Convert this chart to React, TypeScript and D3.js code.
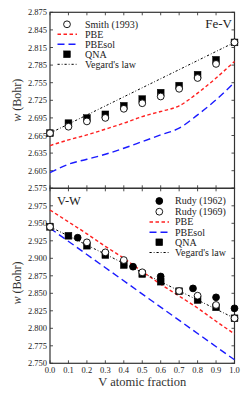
import React from "react";
import * as d3 from "d3";

// ---- Fe-V panel data ----
const xFe = [0, 0.1, 0.2, 0.3, 0.4, 0.5, 0.6, 0.7, 0.8, 0.9, 1.0];
const feSmith = [2.669, 2.680, 2.689, 2.695, 2.7105, 2.720, 2.7315, 2.7446, 2.763, 2.787, 2.8237];
const feQNA = [2.669, 2.686, 2.6946, 2.701, 2.7156, 2.727, 2.738, 2.750, 2.7686, 2.794, 2.8237];
const fePBE = [2.6478, 2.6575, 2.666, 2.6758, 2.686, 2.6973, 2.7059, 2.7156, 2.7373, 2.7629, 2.7913];
const fePBEsol = [2.6017, 2.616, 2.6245, 2.633, 2.6433, 2.6546, 2.666, 2.6775, 2.7002, 2.7258, 2.7554];
const feVegardX = [0, 1];
const feVegard = [2.669, 2.8237];
const feTicks = [2.575, 2.605, 2.635, 2.665, 2.695, 2.725, 2.755, 2.785, 2.815, 2.845, 2.875];

// ---- V-W panel data ----
const vwRudy62X = [0.15, 0.45, 0.6, 0.775, 0.9, 1.0];
const vwRudy62 = [2.9294, 2.888, 2.874, 2.857, 2.8442, 2.8285];
const vwRudy69X = [0, 0.2, 0.3, 0.4, 0.5, 0.7, 0.8, 0.9, 1.0];
const vwRudy69 = [2.945, 2.9228, 2.9085, 2.8975, 2.880, 2.8533, 2.8466, 2.8333, 2.8143];
const vwQNAX = [0, 0.1, 0.2, 0.3, 0.4, 0.5, 0.6, 0.7, 0.8, 0.9, 1.0];
const vwQNA = [2.945, 2.9322, 2.918, 2.9047, 2.8904, 2.8775, 2.8666, 2.853, 2.8404, 2.830, 2.8143];
const vwPBEX = [0, 0.1, 0.2, 0.3, 0.4, 0.5, 0.6, 0.7, 0.8, 0.9, 1.0];
const vwPBE = [2.969, 2.952, 2.935, 2.917, 2.900, 2.881, 2.863, 2.846, 2.829, 2.810, 2.792];
const vwPBEsolX = [0, 1];
const vwPBEsol = [2.943, 2.755];
const vwVegardX = [0, 1];
const vwVegard = [2.945, 2.8143];
const vwTicks = [2.75, 2.775, 2.8, 2.825, 2.85, 2.875, 2.9, 2.925, 2.95, 2.975, 3.0];

const xTicks = [0, 0.1, 0.2, 0.3, 0.4, 0.5, 0.6, 0.7, 0.8, 0.9, 1.0];

const FONT = "'Liberation Serif', 'DejaVu Serif', serif";
const RED = "#ff2020";
const BLUE = "#1a1aff";

const X0 = 50, X1 = 234.5;
const TOP0 = 12.3, MID = 188.3, BOT1 = 363.3;

const xs = d3.scaleLinear().domain([0, 1]).range([X0, X1]);
const yFe = d3.scaleLinear().domain([2.575, 2.875]).range([MID, TOP0]);
const yVW = d3.scaleLinear().domain([2.75, 3.0]).range([BOT1, MID]);

const pbeDash = "3.5,2.5";
const solDash = "7,4";
const vegDash = "2.2,2,0.8,2";

function linePath(xv: number[], yv: number[], ys: d3.ScaleLinear<number, number>) {
  const g = d3.line<number>().x((_, i) => xs(xv[i])).y((d) => ys(d)).curve(d3.curveMonotoneX);
  return g(yv) || "";
}

function Frame({ ys, ticks, y0, y1, labelTicks }: any) {
  return (
    <g>
      {xTicks.map((t) => (
        <g key={"x" + t}>
          <line x1={xs(t)} x2={xs(t)} y1={y1} y2={y1 - 3} stroke="#222" strokeWidth={0.8} />
          <line x1={xs(t)} x2={xs(t)} y1={y0} y2={y0 + 3} stroke="#222" strokeWidth={0.8} />
        </g>
      ))}
      {ticks.map((t: number) => (
        <g key={"y" + t}>
          <line x1={X0} x2={X0 + 3} y1={ys(t)} y2={ys(t)} stroke="#222" strokeWidth={0.8} />
          <line x1={X1} x2={X1 - 3} y1={ys(t)} y2={ys(t)} stroke="#222" strokeWidth={0.8} />
        </g>
      ))}
      {labelTicks.map((t: number) => (
        <text key={"l" + t} x={X0 - 3} y={ys(t) + 3} textAnchor="end" fontSize={8.5} fontFamily={FONT} fill="#222">
          {t.toFixed(3)}
        </text>
      ))}
      <rect x={X0} y={y0} width={X1 - X0} height={y1 - y0} fill="none" stroke="#333" strokeWidth={1.2} />
    </g>
  );
}

function Circle({ x, y, filled }: any) {
  return <circle cx={x} cy={y} r={3.4} fill={filled ? "#000" : "#fff"} stroke="#000" strokeWidth={0.9} />;
}
function Square({ x, y }: any) {
  return <rect x={x - 3.4} y={y - 3.4} width={6.8} height={6.8} fill="#000" stroke="#000" strokeWidth={0.5} />;
}

export default function App() {
  return (
    <svg width={249} height={394} style={{ position: "absolute", left: 0, top: 0 }}>
      <rect x={0} y={0} width={249} height={394} fill="#fff" />
      {/* Top panel */}
      <Frame ys={yFe} ticks={feTicks} y0={TOP0} y1={MID} labelTicks={feTicks} />
      <path d={linePath(xFe, fePBEsol, yFe)} fill="none" stroke={BLUE} strokeWidth={1.4} strokeDasharray={solDash} />
      <path d={linePath(xFe, fePBE, yFe)} fill="none" stroke={RED} strokeWidth={1.4} strokeDasharray={pbeDash} />
      <path d={linePath(feVegardX, feVegard, yFe)} fill="none" stroke="#000" strokeWidth={1} strokeDasharray={vegDash} />
      {xFe.map((x, i) => <Square key={"fq" + i} x={xs(x)} y={yFe(feQNA[i])} />)}
      {xFe.map((x, i) => <Circle key={"fs" + i} x={xs(x)} y={yFe(feSmith[i])} />)}
      <text x={232} y={27.5} textAnchor="end" fontSize={13} fontFamily={FONT} fill="#222">Fe-V</text>
      {/* top legend */}
      <g fontFamily={FONT} fontSize={10} fill="#222">
        <Circle x={67} y={24.3} />
        <text x={85} y={27.6}>Smith (1993)</text>
        <line x1={57.5} x2={77} y1={34.3} y2={34.3} stroke={RED} strokeWidth={1.4} strokeDasharray={pbeDash} />
        <text x={85} y={37.6}>PBE</text>
        <line x1={57.5} x2={77} y1={44.3} y2={44.3} stroke={BLUE} strokeWidth={1.4} strokeDasharray={solDash} />
        <text x={85} y={47.6}>PBEsol</text>
        <Square x={67} y={54.3} />
        <text x={85} y={57.6}>QNA</text>
        <line x1={57.5} x2={77} y1={64.3} y2={64.3} stroke="#000" strokeWidth={1} strokeDasharray={vegDash} />
        <text x={85} y={67.6}>Vegard's law</text>
      </g>
      <text transform={`translate(21,${(TOP0 + MID) / 2}) rotate(-90)`} textAnchor="middle" fontSize={12} fontFamily={FONT} fill="#333">
        <tspan fontStyle="italic">w</tspan> (Bohr)
      </text>

      {/* Bottom panel */}
      <Frame ys={yVW} ticks={vwTicks} y0={MID} y1={BOT1} labelTicks={vwTicks.slice(0, 10)} />
      <path d={linePath(vwPBEsolX, vwPBEsol, yVW)} fill="none" stroke={BLUE} strokeWidth={1.4} strokeDasharray={solDash} />
      <path d={linePath(vwPBEX, vwPBE, yVW)} fill="none" stroke={RED} strokeWidth={1.4} strokeDasharray={pbeDash} />
      <path d={linePath(vwVegardX, vwVegard, yVW)} fill="none" stroke="#000" strokeWidth={1} strokeDasharray={vegDash} />
      {vwQNAX.map((x, i) => <Square key={"vq" + i} x={xs(x)} y={yVW(vwQNA[i])} />)}
      {vwRudy69X.map((x, i) => <Circle key={"v69" + i} x={xs(x)} y={yVW(vwRudy69[i])} />)}
      {vwRudy62X.map((x, i) => <Circle key={"v62" + i} x={xs(x)} y={yVW(vwRudy62[i])} filled />)}
      <text x={57} y={204.5} fontSize={12.5} fontFamily={FONT} fill="#222">V-W</text>
      <g fontFamily={FONT} fontSize={10} fill="#222">
        <Circle x={159.3} y={201} filled />
        <text x={175} y={204.3}>Rudy (1962)</text>
        <Circle x={159.3} y={211.7} />
        <text x={175} y={215}>Rudy (1969)</text>
        <line x1={149.5} x2={169} y1={222} y2={222} stroke={RED} strokeWidth={1.4} strokeDasharray={pbeDash} />
        <text x={175} y={225.3}>PBE</text>
        <line x1={149.5} x2={169} y1={232.2} y2={232.2} stroke={BLUE} strokeWidth={1.4} strokeDasharray={solDash} />
        <text x={175} y={235.5}>PBEsol</text>
        <Square x={159.3} y={242.3} />
        <text x={175} y={245.6}>QNA</text>
        <line x1={149.5} x2={169} y1={252.5} y2={252.5} stroke="#000" strokeWidth={1} strokeDasharray={vegDash} />
        <text x={175} y={255.8}>Vegard's law</text>
      </g>
      <text transform={`translate(21,283) rotate(-90)`} textAnchor="middle" fontSize={12} fontFamily={FONT} fill="#333">
        <tspan fontStyle="italic">w</tspan> (Bohr)
      </text>
      {xTicks.map((t) => (
        <text key={"xl" + t} x={xs(t)} y={373} textAnchor="middle" fontSize={8.5} fontFamily={FONT} fill="#222">
          {t.toFixed(1)}
        </text>
      ))}
      <text x={(X0 + X1) / 2} y={386} textAnchor="middle" fontSize={12.5} fontFamily={FONT} fill="#333">
        V atomic fraction
      </text>
    </svg>
  );
}
